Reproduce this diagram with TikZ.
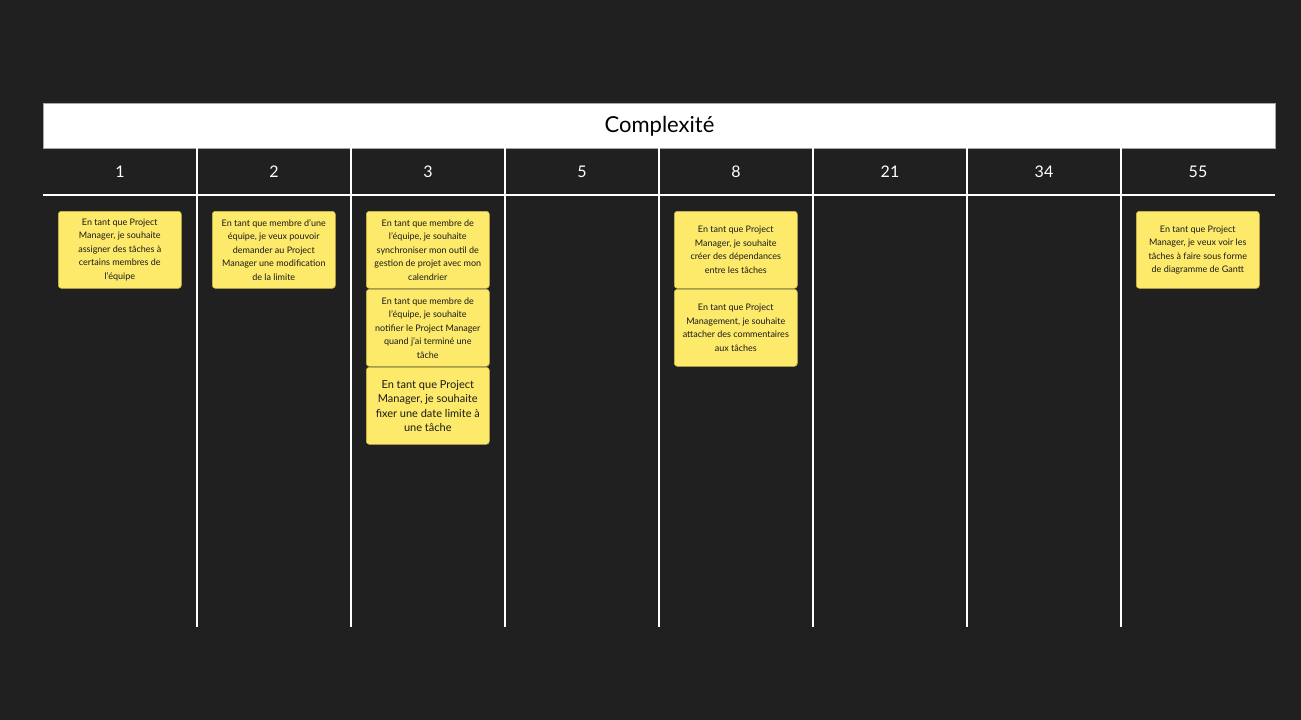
\documentclass[tikz,border=0pt]{standalone}
\usepackage{fontspec}
\setmainfont{Lato}
\definecolor{bg}{HTML}{202020}
\definecolor{sticky}{HTML}{FDEA6B}
\definecolor{stickyedge}{HTML}{C9B84F}
\definecolor{ink}{HTML}{1A1A1A}
\begin{document}
\begin{tikzpicture}[x=1pt,y=-1pt,
  sep/.style={draw=white,line width=2pt},
  numlabel/.style={text=white,font=\fontsize{16}{16}\selectfont},
  note/.style={fill=sticky,draw=stickyedge,line width=0.6pt,rounded corners=3pt,
     minimum width=123pt,minimum height=77pt,align=center,inner sep=2pt,
     text=ink,font=\fontsize{9}{13.5}\selectfont,anchor=north west},
  bignote/.style={note,font=\fontsize{11}{14.5}\selectfont}]
\fill[bg] (0,0) rectangle (1301,720);
\useasboundingbox (0,0) rectangle (1301,720);
% header
\node[draw=gray!70,line width=1pt,fill=white,minimum width=1232pt,minimum height=45pt,inner sep=0pt,
  anchor=north west,font=\fontsize{22}{22}\selectfont] (head) at (43,103) {Complexité};
% horizontal separator
\coordinate (hl) at (43,195);
\coordinate (hr) at (1275,195);
\draw[sep] (hl) -- (hr);
% vertical separators
\foreach \i/\x in {1/197,2/351,3/505,4/659,5/813,6/967,7/1121}{
  \coordinate (vt\i) at (\x,148);
  \coordinate (vb\i) at (\x,627);
  \draw[sep] (vt\i) -- (vb\i);
}
% column numbers
\foreach \n/\x in {1/120,2/274,3/428,5/582,8/736,21/890,34/1044,55/1198}{
  \node[numlabel] (c\n) at (\x,172) {\n};
}
% stickies
\node[note] (n1) at (58,211) {En tant que Project\\Manager, je souhaite\\assigner des tâches à\\certains membres de\\l'équipe};
\node[note] (n2) at (212,211) {En tant que membre d'une\\équipe, je veux pouvoir\\demander au Project\\Manager une modification\\de la limite};
\node[note] (n3a) at (366,211) {En tant que membre de\\l'équipe, je souhaite\\synchroniser mon outil de\\gestion de projet avec mon\\calendrier};
\node[note] (n3b) at (366,289) {En tant que membre de\\l'équipe, je souhaite\\notifier le Project Manager\\quand j'ai terminé une\\tâche};
\node[bignote] (n3c) at (366,367) {En tant que Project\\Manager, je souhaite\\fixer une date limite à\\une tâche};
\node[note] (n8a) at (674,211) {En tant que Project\\Manager, je souhaite\\créer des dépendances\\entre les tâches};
\node[note] (n8b) at (674,289) {En tant que Project\\Management, je souhaite\\attacher des commentaires\\aux tâches};
\node[note] (n55) at (1136,211) {En tant que Project\\Manager, je veux voir les\\tâches à faire sous forme\\de diagramme de Gantt};
\end{tikzpicture}
\end{document}
